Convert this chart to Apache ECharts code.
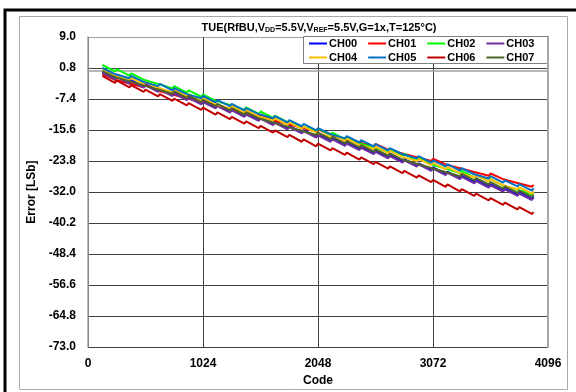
<!DOCTYPE html>
<html>
<head>
<meta charset="utf-8">
<script src="https://cdn.jsdelivr.net/npm/echarts@6/dist/echarts.min.js"></script>
<style>html,body{margin:0;padding:0;background:#fff;}#c{width:576px;height:392px;}</style>
</head>
<body>
<div id="c"></div>
<script>
const seriesNames = ['CH00','CH01','CH02','CH03','CH04','CH05','CH06','CH07'];
const seriesColors = ['#0000ff','#ff0000','#00ff00','#7030a0','#ffc000','#0070c0','#c00000','#4f6228'];
const xTicks = [0,1024,2048,3072,4096];
const yTicks = [-73.0,-64.8,-56.6,-48.4,-40.2,-32.0,-23.8,-15.6,-7.4,0.8,9.0];

const peakCodes = [128,256,384,512,640,768,896,1024,1152,1280,1408,1536,1664,1792,1920,2048,2176,2304,2432,2560,2688,2816,2944,3072,3200,3328,3456,3584,3712,3840,3968];
const troughCodes = [240,368,496,624,752,880,1008,1136,1264,1392,1520,1648,1776,1904,2032,2160,2288,2416,2544,2672,2800,2928,3056,3184,3312,3440,3568,3696,3824,3952];

const ch00Peak = [-0.2,-1.3,-2.4,-3.5,-4.6,-5.7,-6.8,-7.9,-9.0,-10.1,-11.2,-12.3,-13.4,-14.5,-15.6,-16.7,-17.8,-18.9,-20.0,-21.1,-22.2,-23.3,-24.4,-25.5,-26.6,-27.7,-28.8,-29.9,-31.0,-32.1,-33.2];
const ch00Trough = [-1.9,-3.0,-4.1,-5.2,-6.3,-7.4,-8.5,-9.6,-10.7,-11.8,-12.9,-14.0,-15.1,-16.2,-17.3,-18.4,-19.5,-20.6,-21.7,-22.8,-23.9,-25.0,-26.1,-27.2,-28.3,-29.4,-30.5,-31.6,-32.7,-33.8];

const ch01Peak = [-0.8,-1.8,-2.8,-3.7,-4.7,-5.7,-6.7,-7.6,-8.6,-9.6,-10.6,-11.5,-12.5,-13.5,-14.5,-15.4,-16.4,-17.4,-18.4,-19.3,-20.3,-21.3,-22.3,-23.2,-24.2,-25.2,-26.2,-27.1,-28.1,-29.1,-30.1];
const ch01Trough = [-2.3,-3.3,-4.3,-5.2,-6.2,-7.2,-8.2,-9.1,-10.1,-11.1,-12.1,-13.0,-14.0,-15.0,-16.0,-16.9,-17.9,-18.9,-19.9,-20.8,-21.8,-22.8,-23.8,-24.7,-25.7,-26.7,-27.7,-28.6,-29.6,-30.6];

const ch02Peak = [1.6,0.5,-0.6,-1.8,-2.9,-4.0,-5.1,-6.2,-7.4,-8.5,-9.6,-10.7,-11.8,-13.0,-14.1,-15.2,-16.3,-17.4,-18.6,-19.7,-20.8,-21.9,-23.0,-24.2,-25.3,-26.4,-27.5,-28.6,-29.8,-30.9,-32.0];
const ch02Trough = [-0.1,-1.2,-2.3,-3.4,-4.6,-5.7,-6.8,-7.9,-9.0,-10.2,-11.3,-12.4,-13.5,-14.6,-15.8,-16.9,-18.0,-19.1,-20.2,-21.4,-22.5,-23.6,-24.7,-25.8,-27.0,-28.1,-29.2,-30.3,-31.4,-32.6];

const ch03Peak = [-0.5,-1.6,-2.7,-3.8,-4.9,-6.0,-7.1,-8.2,-9.3,-10.4,-11.5,-12.6,-13.7,-14.8,-15.9,-17.0,-18.1,-19.2,-20.3,-21.4,-22.5,-23.6,-24.7,-25.8,-26.9,-28.0,-29.1,-30.2,-31.3,-32.4,-33.5];
const ch03Trough = [-2.2,-3.3,-4.4,-5.5,-6.6,-7.7,-8.8,-9.9,-11.0,-12.1,-13.2,-14.3,-15.4,-16.5,-17.6,-18.7,-19.8,-20.9,-22.0,-23.1,-24.2,-25.3,-26.4,-27.5,-28.6,-29.7,-30.8,-31.9,-33.0,-34.1];

const ch04Peak = [0.3,-0.8,-1.8,-2.9,-4.0,-5.0,-6.1,-7.2,-8.3,-9.3,-10.4,-11.5,-12.5,-13.6,-14.7,-15.8,-16.8,-17.9,-19.0,-20.0,-21.1,-22.2,-23.2,-24.3,-25.4,-26.5,-27.5,-28.6,-29.7,-30.7,-31.8];
const ch04Trough = [-1.3,-2.4,-3.5,-4.5,-5.6,-6.7,-7.8,-8.8,-9.9,-11.0,-12.0,-13.1,-14.2,-15.3,-16.3,-17.4,-18.5,-19.5,-20.6,-21.7,-22.7,-23.8,-24.9,-26.0,-27.0,-28.1,-29.2,-30.2,-31.3,-32.4];

const ch05Peak = [0.8,-0.3,-1.3,-2.4,-3.4,-4.5,-5.6,-6.6,-7.7,-8.7,-9.8,-10.9,-11.9,-13.0,-14.0,-15.1,-16.2,-17.2,-18.3,-19.3,-20.4,-21.5,-22.5,-23.6,-24.6,-25.7,-26.8,-27.8,-28.9,-29.9,-31.0];
const ch05Trough = [-0.8,-1.9,-2.9,-4.0,-5.1,-6.1,-7.2,-8.3,-9.3,-10.4,-11.4,-12.5,-13.6,-14.6,-15.7,-16.7,-17.8,-18.9,-19.9,-21.0,-22.0,-23.1,-24.2,-25.2,-26.3,-27.3,-28.4,-29.5,-30.5,-31.6];

const ch06Peak = [-1.3,-2.5,-3.7,-4.9,-6.1,-7.3,-8.5,-9.7,-10.9,-12.1,-13.3,-14.5,-15.7,-16.9,-18.1,-19.2,-20.4,-21.6,-22.8,-24.0,-25.2,-26.4,-27.6,-28.8,-30.0,-31.2,-32.4,-33.6,-34.8,-36.0,-37.3];
const ch06Trough = [-3.1,-4.3,-5.5,-6.7,-7.9,-9.1,-10.3,-11.5,-12.7,-13.9,-15.1,-16.3,-17.5,-18.7,-19.9,-21.0,-22.2,-23.4,-24.6,-25.8,-27.0,-28.2,-29.4,-30.6,-31.8,-33.0,-34.2,-35.4,-36.6,-37.8];

const ch07Peak = [0.0,-1.1,-2.2,-3.3,-4.4,-5.4,-6.5,-7.6,-8.7,-9.8,-10.9,-12.0,-13.1,-14.2,-15.3,-16.3,-17.4,-18.5,-19.6,-20.7,-21.8,-22.9,-24.0,-25.1,-26.2,-27.2,-28.3,-29.4,-30.5,-31.6,-32.7];
const ch07Trough = [-1.6,-2.7,-3.8,-4.9,-6.0,-7.1,-8.2,-9.3,-10.4,-11.5,-12.5,-13.6,-14.7,-15.8,-16.9,-18.0,-19.1,-20.2,-21.3,-22.4,-23.4,-24.5,-25.6,-26.7,-27.8,-28.9,-30.0,-31.1,-32.2,-33.3];

const peaks = [ch00Peak,ch01Peak,ch02Peak,ch03Peak,ch04Peak,ch05Peak,ch06Peak,ch07Peak];
const troughs = [ch00Trough,ch01Trough,ch02Trough,ch03Trough,ch04Trough,ch05Trough,ch06Trough,ch07Trough];

function buildData(p, t) {
  const out = [];
  for (let k = 0; k < peakCodes.length; k++) {
    out.push([peakCodes[k], p[k]]);
    if (k < troughCodes.length) out.push([troughCodes[k], t[k]]);
  }
  return out;
}

const FONT = 'Arial, "Liberation Sans", sans-serif';
const chart = echarts.init(document.getElementById('c'), null, {renderer: 'canvas'});

const series = seriesNames.map((n, i) => ({
  name: n,
  type: 'line',
  data: buildData(peaks[i], troughs[i]),
  symbol: 'none',
  lineStyle: {color: seriesColors[i], width: 2},
  itemStyle: {color: seriesColors[i]},
  z: 2,
  animation: false
}));

const splitY = yTicks.map((v, i) => (i === yTicks.length - 1 ? '#a0a0a0' : '#404040'));
const splitX = xTicks.map((v, i) => (i === xTicks.length - 1 ? '#a0a0a0' : '#404040'));

const legendCommon = {
  icon: 'rect', itemWidth: 18, itemHeight: 2, itemGap: 11,
  textStyle: {fontFamily: FONT, fontWeight: 'bold', fontSize: 11, color: '#000', padding: [0,0,0,-3]},
  padding: 0,
  selectedMode: false
};

chart.setOption({
  animation: false,
  backgroundColor: '#ffffff',
  grid: {left: 88, right: 28, top: 37, bottom: 44, show: false},
  graphic: [
    {type: 'rect', shape: {x: 5, y: 10, width: 620, height: 420}, style: {fill: 'none', stroke: '#000', lineWidth: 3}, z: 0, silent: true},
    {type: 'rect', shape: {x: 19.5, y: 16.5, width: 548, height: 373}, style: {fill: 'none', stroke: '#a8a8a8', lineWidth: 1}, z: 0, silent: true},
    {type: 'rect', shape: {x: 303.5, y: 36.5, width: 245, height: 27}, style: {fill: '#fff', stroke: '#808080', lineWidth: 1}, z: 3, silent: true},
    {type: 'line', shape: {x1: 548, y1: 37, x2: 548, y2: 348}, style: {stroke: '#a8a8a8', lineWidth: 2}, z: 3, silent: true},
    {type: 'text', x: 319, y: 28, z: 5, silent: true,
      style: {
        text: '{m|TUE(RfBU,V}{s|DD}{m|=5.5V,V}{s|REF}{m|=5.5V,G=1x,T=125°C)}',
        align: 'center', verticalAlign: 'middle',
        rich: {
          m: {fontFamily: FONT, fontWeight: 'bold', fontSize: 11, fill: '#000', lineHeight: 12},
          s: {fontFamily: FONT, fontWeight: 'bold', fontSize: 7, fill: '#000', lineHeight: 4, verticalAlign: 'bottom'}
        }
      }
    }
  ],
  legend: [
    Object.assign({data: seriesNames.slice(0,4), left: 309, top: 38}, legendCommon),
    Object.assign({data: seriesNames.slice(4,8), left: 309, top: 52}, legendCommon)
  ],
  xAxis: {
    type: 'value', min: 0, max: 4096, interval: 1024,
    name: 'Code', nameLocation: 'middle', nameGap: 27,
    nameTextStyle: {fontFamily: FONT, fontWeight: 'bold', fontSize: 12, color: '#000'},
    axisLine: {show: true, lineStyle: {color: '#a0a0a0', width: 1.5}},
    axisTick: {show: false},
    axisLabel: {fontFamily: FONT, fontWeight: 'bold', fontSize: 12, color: '#000', margin: 11, showMinLabel: true, showMaxLabel: true,
      formatter: v => String(v)},
    splitLine: {show: true, lineStyle: {color: splitX, width: 1}}
  },
  yAxis: {
    type: 'value', min: -73, max: 9, interval: 8.2,
    name: 'Error [LSb]', nameLocation: 'middle', nameGap: 46, nameRotate: 90,
    nameTextStyle: {fontFamily: FONT, fontWeight: 'bold', fontSize: 12, color: '#000'},
    axisLine: {show: true, lineStyle: {color: '#a0a0a0', width: 1.5}},
    axisTick: {show: false},
    axisLabel: {fontFamily: FONT, fontWeight: 'bold', fontSize: 12, color: '#000', margin: 12,
      formatter: v => (Math.round(v * 10) / 10).toFixed(1)},
    splitLine: {show: true, lineStyle: {color: splitY, width: 1}}
  },
  series: series
});
</script>
</body>
</html>
